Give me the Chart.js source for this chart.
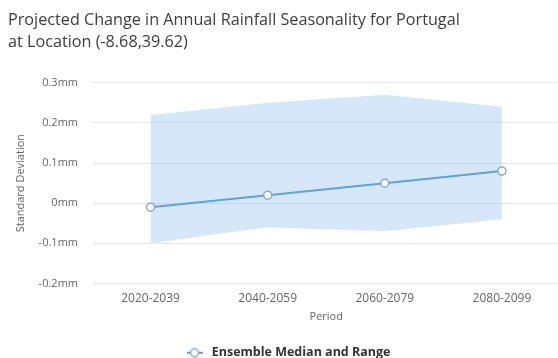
<!DOCTYPE html>
<html>
<head>
<meta charset="utf-8">
<script src="https://cdn.jsdelivr.net/npm/chart.js@4.4.1/dist/chart.umd.min.js"></script>
<style>
  html, body { margin: 0; padding: 0; background: #ffffff; overflow: hidden; }
  #wrap { width: 566px; height: 369px; position: relative; }
</style>
</head>
<body>
<div id="wrap"><canvas id="chart"></canvas></div>
<script>
// Rainfall seasonality projection (standard deviation, mm)
const periods = ['2020-2039', '2040-2059', '2060-2079', '2080-2099'];
const medianValues = [-0.01, 0.02, 0.05, 0.08];
const rangeLow = [-0.10, -0.06, -0.07, -0.04];
const rangeHigh = [0.22, 0.25, 0.27, 0.24];
const yTicks = [-0.2, -0.1, 0, 0.1, 0.2, 0.3];

const lineColor = '#5ea4d6';
const markerBorder = '#8da8c8';
const areaColor = 'rgba(124, 181, 236, 0.32)';

// small legend symbol: a line segment crossed by a hollow circle
function legendSymbol() {
  const c = document.createElement('canvas');
  c.width = 16; c.height = 12;
  const g = c.getContext('2d');
  g.strokeStyle = lineColor;
  g.lineWidth = 2;
  g.beginPath(); g.moveTo(0, 6); g.lineTo(16, 6); g.stroke();
  g.fillStyle = '#ffffff';
  g.strokeStyle = markerBorder;
  g.lineWidth = 1.5;
  g.beginPath(); g.arc(8, 6, 4, 0, Math.PI * 2); g.fill(); g.stroke();
  return c;
}

const fontFamily = '"Open Sans", "DejaVu Sans", sans-serif';

new Chart(document.getElementById('chart'), {
  type: 'line',
  data: {
    labels: periods,
    datasets: [
      {
        label: 'low',
        data: rangeLow,
        borderWidth: 0,
        pointRadius: 0,
        pointHoverRadius: 0,
        fill: false,
        order: 3
      },
      {
        label: 'high',
        data: rangeHigh,
        borderWidth: 0,
        pointRadius: 0,
        pointHoverRadius: 0,
        backgroundColor: areaColor,
        fill: '-1',
        order: 2
      },
      {
        label: 'Ensemble Median and Range',
        data: medianValues,
        borderColor: lineColor,
        borderWidth: 2,
        pointRadius: 4,
        pointBackgroundColor: '#ffffff',
        pointBorderColor: markerBorder,
        pointBorderWidth: 1.5,
        fill: false,
        tension: 0,
        order: 1
      }
    ]
  },
  options: {
    responsive: true,
    maintainAspectRatio: false,
    animation: false,
    layout: { padding: { left: 8, right: 0, top: 0, bottom: 0 } },
    plugins: {
      title: {
        display: true,
        text: ['Projected Change in Annual Rainfall Seasonality for Portugal', 'at Location (-8.68,39.62)'],
        align: 'start',
        color: '#3d3d3d',
        font: { family: fontFamily, size: 16.2, weight: 'normal', lineHeight: 1.32 },
        padding: { top: 10, bottom: 30 }
      },
      legend: {
        position: 'bottom',
        labels: {
          usePointStyle: true,
          pointStyleWidth: 22,
          color: '#333333',
          font: { family: fontFamily, size: 12.5, weight: 'bold' },
          padding: 2,
          filter: item => item.datasetIndex === 2,
          generateLabels: chart => {
            const items = Chart.defaults.plugins.legend.labels.generateLabels(chart);
            items.forEach(it => { it.pointStyle = legendSymbol(); });
            return items;
          }
        }
      },
      tooltip: { enabled: false }
    },
    scales: {
      x: {
        type: 'category',
        offset: true,
        grid: { display: false, drawTicks: false },
        border: { display: false },
        ticks: {
          color: '#666666',
          font: { family: fontFamily, size: 12 },
          padding: 8,
          maxRotation: 0
        },
        title: {
          display: true,
          text: 'Period',
          color: '#666666',
          font: { family: fontFamily, size: 11 },
          padding: { top: 1, bottom: 21 }
        },
        afterFit: s => { s.height = 61; }
      },
      y: {
        min: -0.2,
        max: 0.3,
        afterBuildTicks: s => { s.ticks = yTicks.map(v => ({ value: v })); },
        grid: { color: '#e6e6e6', drawTicks: false, lineWidth: 1 },
        border: { display: false },
        ticks: {
          color: '#666666',
          font: { family: fontFamily, size: 11 },
          padding: 14,
          callback: v => (Math.round(v * 10) / 10) + 'mm'
        },
        title: {
          display: true,
          text: 'Standard Deviation',
          color: '#666666',
          font: { family: fontFamily, size: 11 },
          padding: { top: 6, bottom: 0 }
        },
        afterFit: s => { s.width = 84; }
      }
    }
  }
});
</script>
</body>
</html>
